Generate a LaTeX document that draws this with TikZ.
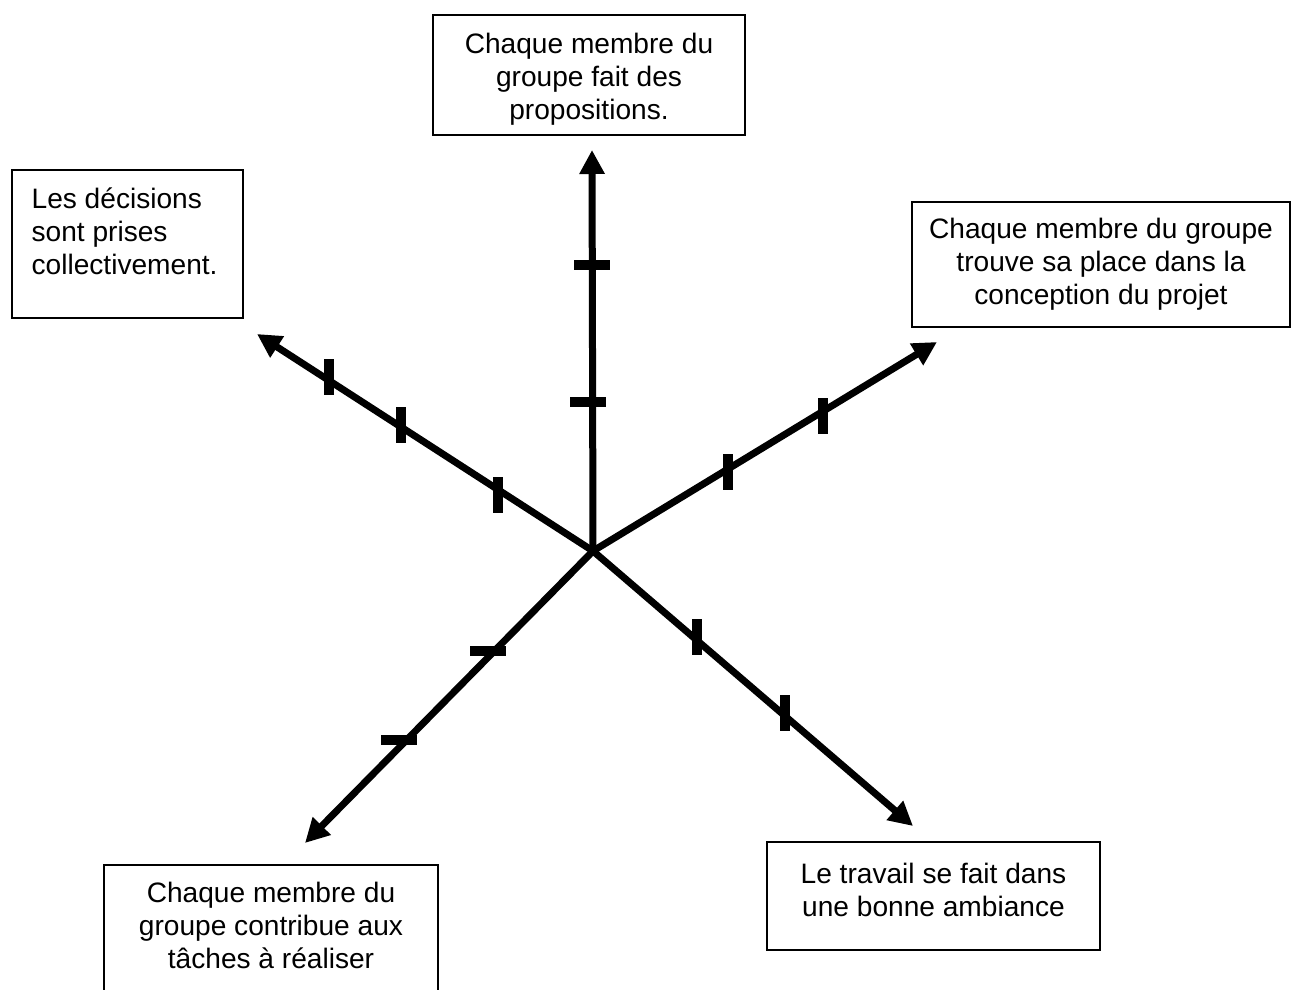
\documentclass[tikz,border=0pt]{standalone}
\usepackage{fontspec}
\setmainfont{Liberation Sans}
\usetikzlibrary{arrows.meta,positioning,fit}
\begin{document}
\begin{tikzpicture}
[
 x=0.02cm, y=-0.02cm,
 BOX/.style={rectangle, draw=black, line width=0.8pt, inner sep=0mm},
 TXT/.style={inner sep=0mm, align=center, font=\fontsize{16}{18.8}\selectfont},
 AXIS/.style={line width=0.14cm, -{Triangle[length=0.48cm, width=0.48cm]}},
 VTICK/.style={line width=0.2cm},
 HTICK/.style={line width=0.2cm},
 ]
%
\useasboundingbox (0,0) rectangle (1292,990);
\clip (0,0) rectangle (1292,990);
%
\node [BOX, fit={(433,15) (745,135)}]    (PBOX)  {};
\node [BOX, fit={(12,170) (243,318)}]    (DBOX)  {};
\node [BOX, fit={(912,202) (1290,327)}]  (CBOX)  {};
\node [BOX, fit={(767,842) (1100,950)}]  (ABOX)  {};
\node [BOX, fit={(104,865) (438,1010)}]  (TBOX)  {};
%
\node [TXT, below=0.36cm of PBOX.north]  (PTXT)  {Chaque membre du\\groupe fait des\\propositions.};
\node [TXT, align=left, anchor=north west] (DTXT) at ([xshift=0.4cm, yshift=-0.36cm]DBOX.north west)
      {Les décisions\\sont prises\\collectivement.};
\node [TXT, below=0.32cm of CBOX.north]  (CTXT)  {Chaque membre du groupe\\trouve sa place dans la\\conception du projet};
\node [TXT, below=0.42cm of ABOX.north]  (ATXT)  {Le travail se fait dans\\une bonne ambiance};
\node [TXT, below=0.34cm of TBOX.north]  (TTXT)  {Chaque membre du\\groupe contribue aux\\tâches à réaliser};
%
\coordinate (O)  at (593,551);
\coordinate (N)  at (592,150);
\coordinate (NW) at (257,334);
\coordinate (NE) at (937,342);
\coordinate (SE) at (913,826);
\coordinate (SW) at (305,843);
%
\draw [AXIS]  (O) -- (N) ;
\draw [AXIS]  (O) -- (NW) ;
\draw [AXIS]  (O) -- (NE) ;
\draw [AXIS]  (O) -- (SE) ;
\draw [AXIS]  (O) -- (SW) ;
%
\foreach \x/\y in {329/377, 401/425, 498/495, 728/472, 823/416, 697/637, 785/713}
   {
     \draw [VTICK]  (\x,\y-18) -- (\x,\y+18) ;
   }
%
\foreach \x/\y in {592/265, 588/402, 488/651, 399/740}
   {
     \draw [HTICK]  (\x-18,\y) -- (\x+18,\y) ;
   }
%
\end{tikzpicture}
\end{document}
